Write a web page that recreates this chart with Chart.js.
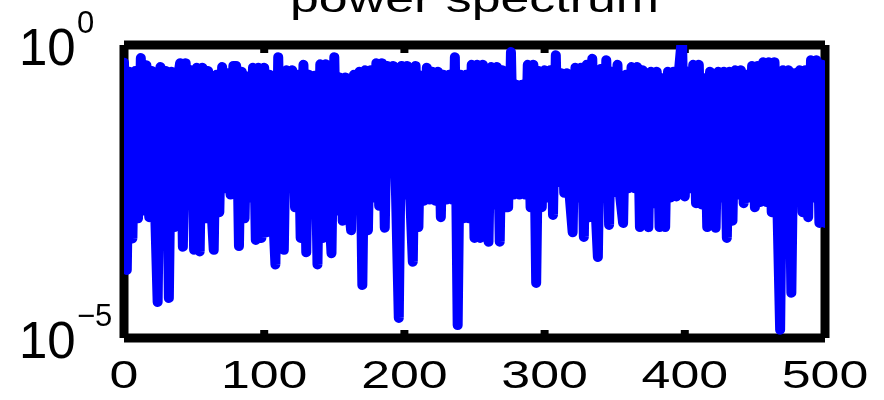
<!DOCTYPE html>
<html><head><meta charset="utf-8">
<script src="https://cdn.jsdelivr.net/npm/chart.js@4.4.1/dist/chart.umd.min.js"></script>
<style>html,body{margin:0;padding:0;background:#fff;overflow:hidden}canvas{display:block}</style>
</head><body>
<canvas id="c" width="884" height="400"></canvas>
<script>
const freq = [
  0,2,4,6,8,10,12,14,16,18,
  20,22,24,26,28,30,32,34,36,38,
  40,42,44,46,48,50,52,54,56,58,
  60,62,64,66,68,70,72,74,76,78,
  80,82,84,86,88,90,92,94,96,98,
  100,102,104,106,108,110,112,114,116,118,
  120,122,124,126,128,130,132,134,136,138,
  140,142,144,146,148,150,152,154,156,158,
  160,162,164,166,168,170,172,174,176,178,
  180,182,184,186,188,190,192,194,196,198,
  200,202,204,206,208,210,212,214,216,218,
  220,222,224,226,228,230,232,234,236,238,
  240,242,244,246,248,250,252,254,256,258,
  260,262,264,266,268,270,272,274,276,278,
  280,282,284,286,288,290,292,294,296,298,
  300,302,304,306,308,310,312,314,316,318,
  320,322,324,326,328,330,332,334,336,338,
  340,342,344,346,348,350,352,354,356,358,
  360,362,364,366,368,370,372,374,376,378,
  380,382,384,386,388,390,392,394,396,398,
  400,402,404,406,408,410,412,414,416,418,
  420,422,424,426,428,430,432,434,436,438,
  440,442,444,446,448,450,452,454,456,458,
  460,462,464,466,468,470,472,474,476,478,
  480,482,484,486,488,490,492,494,496,498,
  500
];
const power = [
  0.5, 1.45e-4, 0.35, 5e-4, 0.36, 1.1e-3, 0.6, 1.5e-3, 0.45, 1.15e-3,
  0.36, 2.2e-3, 4.1e-5, 0.42, 1.8e-3, 0.36, 4.8e-5, 0.35, 7.8e-4, 0.22,
  0.49, 3.6e-4, 0.49, 2e-3, 0.37, 3.2e-4, 0.41, 3e-4, 0.41, 1.1e-3,
  0.36, 2.4e-3, 3.2e-4, 0.31, 1.4e-3, 0.42, 3.6e-3, 0.33, 2.8e-3, 0.44,
  0.44, 3.7e-4, 0.35, 1.1e-3, 0.29, 2.5e-3, 0.41, 4.7e-4, 0.41, 5.1e-4,
  0.41, 6.4e-4, 0.31, 2e-3, 1.8e-4, 0.62, 2.5e-3, 3.2e-4, 0.37, 4.5e-3,
  0.37, 1.7e-3, 0.31, 5.1e-4, 0.46, 2.9e-4, 0.31, 1.7e-3, 0.3, 1.8e-4,
  0.47, 5.1e-4, 0.47, 2.5e-3, 2.8e-4, 0.62, 1.5e-3, 0.28, 1e-3, 0.28,
  2.2e-3, 6.9e-4, 0.31, 2.5e-3, 0.35, 8e-5, 0.37, 6.9e-4, 0.37, 2.5e-3,
  0.49, 1.8e-3, 0.49, 7.6e-4, 0.44, 1e-2, 0.44, 3e-3, 2.2e-5, 0.44,
  2.8e-3, 0.44, 3.1e-3, 2e-4, 0.44, 7.8e-4, 0.3, 2.2e-3, 0.41, 2.3e-3,
  0.35, 2.2e-3, 0.35, 1.15e-3, 0.31, 2.3e-3, 0.31, 2.3e-3, 0.62, 1.66e-5,
  0.31, 1.1e-3, 0.31, 1.1e-3, 0.46, 5.1e-4, 0.46, 5.1e-4, 0.46, 1.8e-3,
  4.4e-4, 0.42, 1.9e-3, 0.42, 4.4e-4, 0.37, 1.7e-3, 1.7e-3, 0.76, 2.8e-3,
  0.21, 2.8e-3, 0.21, 2.8e-3, 0.46, 1.7e-3, 0.46, 8.7e-5, 0.36, 1.7e-3,
  0.37, 2.5e-3, 0.37, 1.26e-3, 0.67, 4.6e-3, 0.33, 3e-3, 0.33, 2.5e-3,
  6.4e-4, 0.41, 2.5e-3, 0.41, 5.3e-4, 0.46, 1.15e-3, 0.58, 2.5e-3, 2.4e-4,
  0.39, 2.5e-3, 0.55, 8.5e-4, 0.35, 3.1e-3, 0.46, 2.5e-3, 9.2e-4, 0.31,
  3.6e-3, 0.42, 3.6e-3, 0.42, 7.8e-4, 0.37, 2.5e-3, 7.8e-4, 0.35, 2e-3,
  0.35, 7.8e-4, 0.27, 7.8e-4, 0.35, 2.5e-3, 0.35, 2.6e-3, 0.4, 1.4,
  2.6e-3, 0.35, 3.6e-3, 0.46, 2e-3, 0.46, 1.9e-3, 0.27, 7.8e-4, 0.35,
  2.5e-3, 7.6e-4, 0.35, 2.5e-3, 0.35, 5.1e-4, 0.35, 1e-3, 0.37, 2.8e-3,
  0.37, 2e-3, 0.31, 2.5e-3, 0.44, 1.7e-3, 0.44, 2.1e-3, 0.51, 2.1e-3,
  0.51, 1.4e-3, 0.51, 2e-3, 1.38e-5, 0.37, 2.5e-3, 0.37, 5.9e-5, 0.33,
  2.5e-3, 0.37, 1.4e-3, 0.37, 1.15e-3, 0.55, 2.5e-3, 0.55, 9.2e-4, 0.46,
  9.2e-4
];
const xTickValues = [0, 100, 200, 300, 400, 500];
const xTickLabels = ['0', '100', '200', '300', '400', '500'];
const yTickValues = [1, 1e-5];
const yTickBase = ['10', '10'];
const yTickExp = ['0', '\u22125'];
const titleText = 'power spectrum';

const FONT = '"Liberation Sans", Arial, Helvetica, sans-serif';
const STRETCH = 1.33;

const framePlugin = {
  id: 'frame',
  beforeDatasetsDraw(chart) {
    const { ctx, chartArea: a, scales } = chart;
    ctx.save();
    ctx.strokeStyle = '#000';
    ctx.lineCap = 'butt';
    ctx.lineWidth = 9;
    const seg = (x1, y1, x2, y2) => { ctx.beginPath(); ctx.moveTo(x1, y1); ctx.lineTo(x2, y2); ctx.stroke(); };
    seg(a.left, a.top, a.right, a.top);
    seg(a.left, a.bottom, a.right, a.bottom);
    seg(a.left, a.top, a.left, a.bottom);
    seg(a.right, a.top, a.right, a.bottom);
    ctx.lineWidth = 8;
    xTickValues.forEach(v => {
      const px = scales.x.getPixelForValue(v);
      seg(px, a.top, px, a.top + 8);
      seg(px, a.bottom, px, a.bottom - 8);
    });
    ctx.restore();
  },
  afterDraw(chart) {
    const { ctx, chartArea: a, scales } = chart;
    ctx.save();
    ctx.fillStyle = '#000';
    ctx.textBaseline = 'alphabetic';
    ctx.font = '39px ' + FONT;
    ctx.textAlign = 'center';
    xTickValues.forEach((v, i) => {
      const px = scales.x.getPixelForValue(v);
      ctx.save();
      ctx.translate(px, 388);
      ctx.scale(STRETCH, 1);
      ctx.fillText(xTickLabels[i], 0, 0);
      ctx.restore();
    });
    ctx.textAlign = 'left';
    yTickValues.forEach((v, i) => {
      const py = scales.y.getPixelForValue(v);
      ctx.font = '51px ' + FONT;
      ctx.fillText(yTickBase[i], 19, py + 20);
      ctx.font = '31px ' + FONT;
      ctx.fillText(yTickExp[i], 77, py - 12);
    });
    ctx.font = '39px ' + FONT;
    ctx.textAlign = 'center';
    ctx.save();
    ctx.translate((a.left + a.right) / 2, 12);
    ctx.scale(STRETCH, 1);
    ctx.fillText(titleText, 0, 0);
    ctx.restore();
    ctx.restore();
  }
};

new Chart(document.getElementById('c'), {
  type: 'line',
  data: {
    datasets: [{
      label: 'power spectrum',
      data: freq.map((f, i) => ({ x: f, y: power[i] })),
      borderColor: '#0000ff',
      backgroundColor: '#0000ff',
      borderWidth: 10,
      borderCapStyle: 'round',
      borderJoinStyle: 'round',
      pointRadius: 0,
      tension: 0,
      fill: false,
      clip: 0
    }]
  },
  options: {
    responsive: false,
    animation: false,
    devicePixelRatio: 1,
    layout: { padding: { left: 124, right: 59, top: 45, bottom: 62 } },
    plugins: { legend: { display: false }, tooltip: { enabled: false }, title: { display: false } },
    scales: {
      x: { type: 'linear', min: 0, max: 500,
           ticks: { display: false }, grid: { display: false, drawTicks: false }, border: { display: false } },
      y: { type: 'logarithmic', min: 1e-5, max: 1,
           ticks: { display: false }, grid: { display: false, drawTicks: false }, border: { display: false } }
    }
  },
  plugins: [framePlugin]
});
</script>
</body></html>
